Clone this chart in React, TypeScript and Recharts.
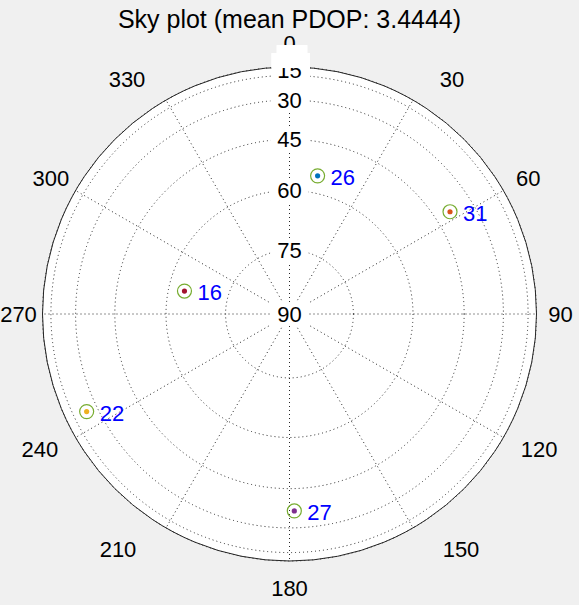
import React from "react";
import { RadarChart, Radar, PolarGrid, PolarAngleAxis, PolarRadiusAxis } from "recharts";

// satellites
const satPrn = ["26", "31", "16", "22", "27"];
const satAzimuth = [11.5, 57.5, 282.3, 244.3, 178.6];
const satElevation = [55.2, 39.6, 64.2, 24.3, 37.1];
const satColor = ["#0072BD", "#D95319", "#A2142F", "#EDB120", "#7E2F8E"];

const azimuthTicks = [0, 30, 60, 90, 120, 150, 180, 210, 240, 270, 300, 330];
const elevationTicks = [90, 75, 60, 45, 30, 15, 0];

const W = 579;
const H = 605;
const CX = 289.5;
const CY = 314;
const R = 247;
const FONT = '"Liberation Sans", Arial, Helvetica, sans-serif';
const GRID = "#262626";

// horizontal push of the azimuth labels away from the circle (matlab-ish placement)
const LABEL_PUSH: Record<number, number> = { 30: 27, 60: 4, 120: 15, 150: 36 };

// sky plot projection: radius = cos(elevation)
const toRadial = (el: number) => Math.cos((el * Math.PI) / 180);
const toElevation = (v: number) => Math.round((Math.acos(Math.min(1, v)) * 180) / Math.PI);

const data = satPrn.map((prn, i) => ({
  prn,
  az: satAzimuth[i],
  r: toRadial(satElevation[i]),
}));
const radialTicks = elevationTicks.map(toRadial);

function AngleTick(props: any) {
  const az = props.payload.value;
  const a = (az * Math.PI) / 180;
  const rr = 271 + (az === 180 ? 3 : 0);
  const mirror = az > 180 ? 360 - az : az;
  const push = (LABEL_PUSH[mirror] || 0) * Math.sign(Math.sin(a));
  return (
    <text
      x={CX + rr * Math.sin(a) + push}
      y={CY - rr * Math.cos(a)}
      textAnchor="middle"
      dy="0.36em"
      fontSize={22}
      fontFamily={FONT}
      fill="#000"
    >
      {az}
    </text>
  );
}

function RadialTick(props: any) {
  const { x, y, payload } = props;
  const el = toElevation(payload.value);
  if (el === 0) return <g />;
  const label = (ty: number) => (
    <text x={x} y={ty} textAnchor="middle" dy="0.36em" fontSize={22} fontFamily={FONT} fill="#000">
      {el}
    </text>
  );
  if (el === 15) {
    return (
      <g>
        <rect x={x - 18} y={y - 22.4} width={38.5} height={33} fill="#fff" />
        {label(y - 5.5)}
        <rect x={x - 18} y={y - 22.4} width={38.5} height={15} fill="#fff" />
        <rect x={x - 13} y={y - 30.4} width={31} height={8.5} fill="#fff" />
      </g>
    );
  }
  return (
    <g>
      <rect x={x - 19} y={y - 12} width={38} height={24} fill="#fff" />
      {label(y)}
    </g>
  );
}

function SatDot(props: any) {
  const { cx, cy, index } = props;
  return (
    <g>
      <circle cx={cx} cy={cy} r={7} fill="none" stroke="#77AC30" strokeWidth={1.2} />
      <circle cx={cx} cy={cy} r={2.6} fill={satColor[index]} />
      <text x={cx + 13} y={cy + 1} dy="0.36em" fontSize={22} fontFamily={FONT} fill="#0000FF">
        {satPrn[index]}
      </text>
    </g>
  );
}

export default function App() {
  return (
    <div
      style={{
        position: "absolute",
        left: 0,
        top: 0,
        width: W,
        height: H,
        background: "#f0f0f0",
        fontFamily: FONT,
        overflow: "hidden",
      }}
    >
      <div
        style={{
          position: "absolute",
          left: 0,
          top: 1,
          width: W,
          height: 36,
          lineHeight: "36px",
          textAlign: "center",
          fontSize: 25,
          color: "#000",
        }}
      >
        Sky plot (mean PDOP: 3.4444)
      </div>
      <div
        style={{
          position: "absolute",
          left: CX - R,
          top: CY - R,
          width: 2 * R,
          height: 2 * R,
          borderRadius: "50%",
          background: "#fff",
        }}
      />
      <div style={{ position: "absolute", left: 0, top: 0 }}>
        <RadarChart
          width={W}
          height={H}
          data={data}
          cx={CX}
          cy={CY}
          innerRadius={0}
          outerRadius={R}
          startAngle={90}
          endAngle={-270}
          margin={{ top: 0, right: 0, bottom: 0, left: 0 }}
        >
          <PolarGrid gridType="circle" stroke={GRID} strokeDasharray="1 3" />
          <PolarGrid gridType="circle" radialLines={false} polarRadius={[R]} stroke={GRID} />
          <PolarAngleAxis
            dataKey="az"
            type="number"
            domain={[0, 360]}
            ticks={azimuthTicks}
            tick={AngleTick}
            axisLine={false}
            tickLine={false}
          />
          <PolarRadiusAxis
            type="number"
            domain={[0, 1]}
            angle={90}
            ticks={radialTicks}
            tick={RadialTick}
            axisLine={false}
          />
          <Radar
            dataKey="r"
            fill="none"
            stroke="none"
            dot={SatDot}
            isAnimationActive={false}
          />
        </RadarChart>
      </div>
    </div>
  );
}
